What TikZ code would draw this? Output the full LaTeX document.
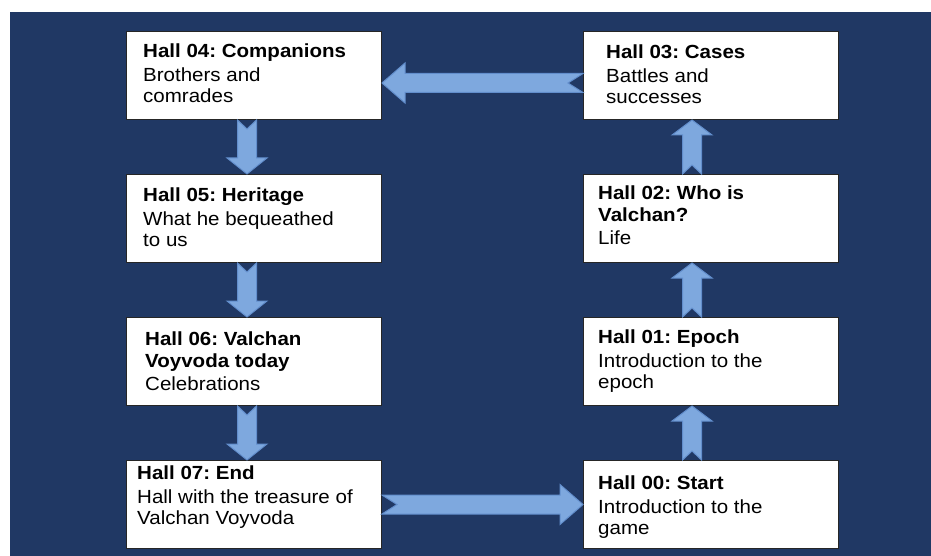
\documentclass[tikz,border=0pt]{standalone}
\usepackage{fontspec}
\usepackage{xcolor}
\usepackage{tikz}
\usetikzlibrary{calc, positioning}

\newfontfamily\hallfont{Liberation Sans}[FakeStretch=1.08]
\frenchspacing

\definecolor{slidebg}{RGB}{32,56,100}
\definecolor{arrowfill}{RGB}{126,168,222}
\definecolor{arrowedge}{RGB}{98,142,204}

%% block arrow with notched tail: #1 tail, #2 tip, #3 head length, #4 notch depth
\newcommand{\flowarrow}[4]{%
  \coordinate (fa-s) at (#1);
  \coordinate (fa-e) at (#2);
  \coordinate (fa-h) at ($(fa-e)!#3!(fa-s)$);
  \filldraw[blockarrow]
    ($(fa-s)!9.5pt!90:(fa-e)$) -- ($(fa-h)!9.5pt!90:(fa-e)$) --
    ($(fa-h)!20pt!90:(fa-e)$) -- (fa-e) --
    ($(fa-h)!20pt!-90:(fa-e)$) -- ($(fa-h)!9.5pt!-90:(fa-e)$) --
    ($(fa-s)!9.5pt!-90:(fa-e)$) -- ($(fa-s)!#4!(fa-e)$) -- cycle;
}

\begin{document}
\begin{tikzpicture}[
    x=1pt, y=-1pt,
    node distance=54pt,
    %% ── Styles ────────────────────────────────────────────────
    hall/.style={
        rectangle,
        minimum width=255pt, minimum height=88pt,
        inner sep=0pt,
        draw=black!85, fill=white, line width=1pt
    },
    halltext/.style={
        anchor=north west, align=left, inner sep=0pt,
        text=black,
        font=\hallfont\fontsize{19}{21.5}\selectfont
    },
    blockarrow/.style={
        fill=arrowfill, draw=arrowedge, line width=1pt, line join=miter
    }
]

\useasboundingbox (0,0) rectangle (931,556);
\fill[white] (0,0) rectangle (931,556);
\fill[slidebg] (10,12) rectangle (931,556);

%% ── Hall boxes ─────────────────────────────────────────────────
\node (h04) [hall, anchor=north west] at (126,31) {};
\node (h05) [hall, below=of h04]      {};
\node (h06) [hall, below=of h05]      {};
\node (h07) [hall, below=of h06]      {};
\node (h03) [hall, right=201pt of h04] {};
\node (h02) [hall, below=of h03]      {};
\node (h01) [hall, below=of h02]      {};
\node (h00) [hall, below=of h01]      {};

%% ── Hall texts ─────────────────────────────────────────────────
\node (t04) [halltext] at ([shift={(17,13)}]h04.north west)
    {\textbf{Hall 04: Companions}\\[2pt]Brothers and\\comrades};
\node (t05) [halltext] at ([shift={(17,14)}]h05.north west)
    {\textbf{Hall 05: Heritage}\\[2pt]What he bequeathed\\to us};
\node (t06) [halltext] at ([shift={(19,15)}]h06.north west)
    {\textbf{Hall 06: Valchan}\\\textbf{Voyvoda today}\\[2pt]Celebrations};
\node (t07) [halltext] at ([shift={(11,6)}]h07.north west)
    {\textbf{Hall 07: End}\\[2pt]Hall with the treasure of\\Valchan Voyvoda};
\node (t03) [halltext] at ([shift={(23,14)}]h03.north west)
    {\textbf{Hall 03: Cases}\\[2pt]Battles and\\successes};
\node (t02) [halltext] at ([shift={(15,12)}]h02.north west)
    {\textbf{Hall 02: Who is}\\\textbf{Valchan?}\\[2pt]Life};
\node (t01) [halltext] at ([shift={(15,13)}]h01.north west)
    {\textbf{Hall 01: Epoch}\\[2pt]Introduction to the\\epoch};
\node (t00) [halltext] at ([shift={(15,16)}]h00.north west)
    {\textbf{Hall 00: Start}\\[2pt]Introduction to the\\game};

%% ── Flow arrows ────────────────────────────────────────────────
\coordinate (lcol)   at (247,0);
\coordinate (rcol)   at (692,0);
\coordinate (toprow) at (0,83);
%% right column, upwards
\flowarrow{h00.north -| rcol}{h01.south -| rcol}{15pt}{9pt}
\flowarrow{h01.north -| rcol}{h02.south -| rcol}{15pt}{9pt}
\flowarrow{h02.north -| rcol}{h03.south -| rcol}{15pt}{9pt}
%% across the top
\flowarrow{h03.west |- toprow}{h04.east |- toprow}{23pt}{15pt}
%% left column, downwards
\flowarrow{h04.south -| lcol}{h05.north -| lcol}{16pt}{9pt}
\flowarrow{h05.south -| lcol}{h06.north -| lcol}{16pt}{9pt}
\flowarrow{h06.south -| lcol}{h07.north -| lcol}{16pt}{9pt}
%% across the bottom
\flowarrow{h07.east}{h00.west}{23pt}{15pt}

\end{tikzpicture}
\end{document}
